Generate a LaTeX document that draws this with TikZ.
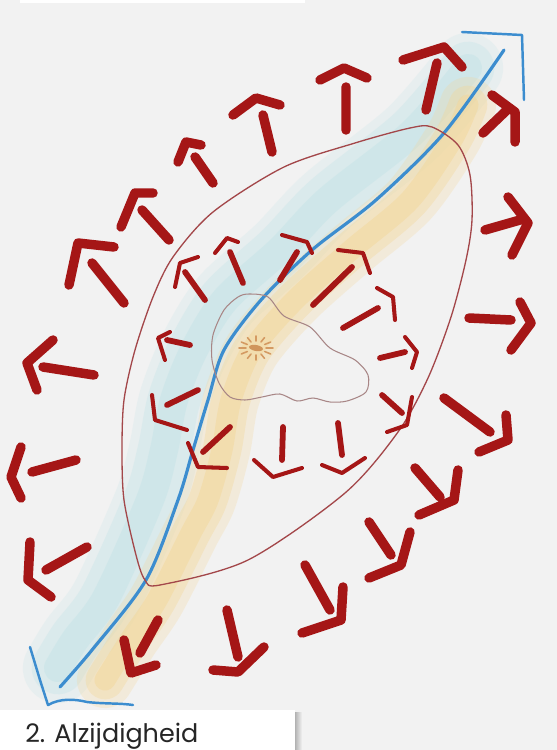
\documentclass[tikz,border=0pt]{standalone}
\usepackage{fontspec}
\setmainfont{Poppins}
\definecolor{alzbg}{HTML}{F2F2F2}
\definecolor{alzred}{HTML}{A51616}
\definecolor{alzblue}{HTML}{3C8DCF}
\definecolor{alzcyan}{HTML}{BFE2E6}
\definecolor{alzsand}{HTML}{F3D696}
\definecolor{alzloopred}{HTML}{A3474A}
\definecolor{alzbrown}{HTML}{A88686}
\definecolor{alzsun}{HTML}{D49A62}
\begin{document}
\begin{tikzpicture}[
  x=0.02cm, y=-0.02cm,
  alzarrow/.style = {line width=5.4pt, draw=alzred, line cap=round, line join=round},
  alzshaft/.style = {line width=3.3pt, draw=alzred, line cap=round},
  alzhead/.style = {line width=2.3pt, draw=alzred, line cap=round, line join=round},
  alzriver/.style = {line width=1.8pt, draw=alzblue, line cap=round, line join=round},
  alzband/.style = {line cap=round, line join=round},
  alzloop/.style = {line width=0.75pt, draw=alzloopred},
  alzcloud/.style = {line width=0.6pt, draw=alzbrown},
  alzray/.style = {line width=0.9pt, draw=alzsun, line cap=round},
  alzlbl/.style = {font=\fontsize{14.5}{17}\selectfont, text=black!85, inner sep=0pt, anchor=base west}
]
  \useasboundingbox (0,0) rectangle (557,750);
  \fill[alzbg] (0,0) rectangle (557,750);
  \fill[white] (20,0) rectangle (305,3);

  % zachte oevers langs de rivier
  \foreach \w/\o in {40/0.2, 30/0.3, 16/0.4}
    \draw[alzband, draw=alzcyan, line width=\w pt, draw opacity=\o]
      plot[smooth] coordinates {(58,668) (75,640) (106,598) (150,500) (164,450) (174,400)
        (194,350) (225,300) (280,250) (328,200) (412,133) (468,68)};
  \foreach \w/\o in {32/0.25, 22/0.35, 12/0.45}
    \draw[alzband, draw=alzsand, line width=\w pt, draw opacity=\o]
      plot[smooth] coordinates {(105,680) (130,640) (157,600) (191,533) (208,500) (222,450)
        (231,400) (252,350) (295,300) (351,250) (410,200) (452,140) (468,105)};

  % rivier
  \draw[alzriver] plot[smooth] coordinates {(60,687) (92,650) (146,580) (178,500) (193,450)
    (208,400) (224,350) (261,300) (312,250) (376,200) (444,133) (504,50)};
  \draw[alzriver, line width=1.4pt] (462,32) -- (522,35) -- (524,100);
  \draw[alzriver, line width=1.4pt] (30,647) -- (40,680) -- (48,705)
    .. controls (60,698) and (75,699) .. (87,702) .. controls (105,704) and (120,703) .. (133,705);

  % buitengrens en wolk
  \draw[alzloop] plot[smooth cycle] coordinates {(432,127) (458,145) (470,175) (472,220)
    (466,260) (451,317) (428,378) (398,432) (345,493) (248,560) (160,585) (145,580)
    (136,555) (124,500) (122,450) (124,400) (135,350) (153,297) (173,257) (213,212)
    (284,167) (355,143) (410,128)};
  \draw[alzcloud] plot[smooth cycle] coordinates {(249,294) (268,297) (284,316) (310,327)
    (330,348) (355,360) (368,375) (366,392) (347,401) (330,402) (313,398) (297,401)
    (280,394) (262,397) (245,400) (230,397) (219,383) (212,360) (213,335) (224,310) (238,297)};

  % zon
  \fill[alzsun!80!brown, rotate around={-10:(256,348)}] (256,348) ellipse (7 and 3);
  \foreach \a in {0,30,...,330}
    \draw[alzray, shift={(256,348)}] (\a:10 and 7) -- (\a:17 and 12);

  % buitenste pijlen
  \draw[alzarrow] (437,63) -- (426,110) (403,60) -- (444,47) -- (462,67);
  \draw[alzarrow] (346,87) -- (346,130) (320,80) -- (344,68) -- (367,78);
  \draw[alzarrow] (263,115) -- (272,152) (233,115) -- (256,98) -- (280,105);
  \draw[alzarrow] (195,157) -- (213,183) (178,162) -- (186,142) -- (201,145);
  \draw[alzarrow] (142,210) -- (169,240) (121,227) -- (135,193) -- (153,193);
  \draw[alzarrow] (92,263) -- (124,303) (69,285) -- (78,243) -- (114,247);
  \draw[alzarrow] (43,367) -- (94,375) (53,340) -- (27,363) -- (37,390);
  \draw[alzarrow] (32,472) -- (76,460) (21,447) -- (11,477) -- (21,498);
  \draw[alzarrow] (46,570) -- (87,547) (30,542) -- (28,580) -- (51,597);
  \draw[alzarrow] (140,653) -- (158,620) (124,640) -- (131,673) -- (156,665);
  \draw[alzarrow] (227,610) -- (238,657) (213,670) -- (238,672) -- (264,647);
  \draw[alzarrow] (305,565) -- (330,610) (302,633) -- (341,620) -- (343,587);
  \draw[alzarrow] (369,522) -- (391,555) (369,578) -- (401,565) -- (410,532);
  \draw[alzarrow] (415,468) -- (440,497) (419,515) -- (454,500) -- (458,470);
  \draw[alzarrow] (444,398) -- (490,432) (479,452) -- (508,440) -- (506,415);
  \draw[alzarrow] (469,318) -- (511,320) (520,302) -- (531,323) -- (511,350);
  \draw[alzarrow] (485,230) -- (520,220) (508,197) -- (528,223) -- (512,255);
  \draw[alzarrow] (483,133) -- (507,110) (492,95) -- (515,112) -- (515,142);

  % binnenste pijlen
  \draw[alzshaft] (185,272) -- (205,300);  \draw[alzhead] (175,287) -- (180,263) -- (198,257);
  \draw[alzshaft] (230,252) -- (243,283);  \draw[alzhead] (215,253) -- (227,238) -- (238,242);
  \draw[alzshaft] (297,252) -- (280,280);  \draw[alzhead] (282,235) -- (307,242) -- (312,253);
  \draw[alzshaft] (352,267) -- (313,305);  \draw[alzhead] (338,250) -- (363,253) -- (370,273);
  \draw[alzshaft] (378,308) -- (343,328);  \draw[alzhead] (377,288) -- (393,297) -- (395,320);
  \draw[alzshaft] (380,358) -- (405,352);  \draw[alzhead] (405,337) -- (417,352) -- (412,368);
  \draw[alzshaft] (382,395) -- (402,413);  \draw[alzhead] (412,397) -- (407,425) -- (387,432);
  \draw[alzshaft] (338,423) -- (342,455);  \draw[alzhead] (322,465) -- (342,473) -- (365,458);
  \draw[alzshaft] (283,427) -- (282,460);  \draw[alzhead] (254,460) -- (273,477) -- (302,468);
  \draw[alzshaft] (230,427) -- (203,452);  \draw[alzhead] (188,443) -- (198,467) -- (227,468);
  \draw[alzshaft] (198,390) -- (167,405);  \draw[alzhead] (152,395) -- (155,420) -- (187,430);
  \draw[alzshaft] (167,340) -- (190,345);  \draw[alzhead] (170,332) -- (158,338) -- (165,360);

  % titelkader
  \shade[left color=black!30, right color=alzbg] (295,712) rectangle (302,750);
  \fill[white] (0,710) rectangle (295,750);
  \node[alzlbl] (alzlabel) at (25,742) {2. Alzijdigheid};
\end{tikzpicture}
\end{document}
